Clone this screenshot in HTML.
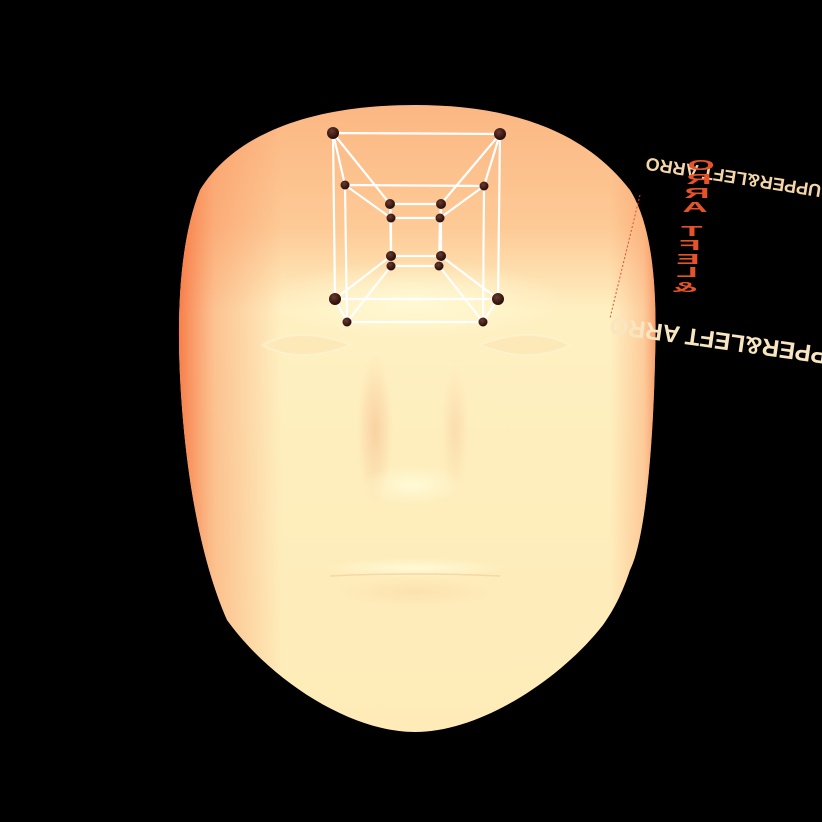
<!DOCTYPE html>
<html><head><meta charset="utf-8"><style>html,body{margin:0;padding:0;background:#000;width:822px;height:822px;overflow:hidden}</style></head>
<body>
<svg width="822" height="822" viewBox="0 0 822 822" xmlns="http://www.w3.org/2000/svg">
<defs>
<linearGradient id="base" x1="0" y1="0" x2="0" y2="1">
<stop offset="0" stop-color="#fcb682"/>
<stop offset="0.2" stop-color="#fdca96"/>
<stop offset="0.33" stop-color="#fff0c2"/>
<stop offset="0.6" stop-color="#feeebd"/>
<stop offset="1" stop-color="#feebb8"/>
</linearGradient>
<linearGradient id="leftedge" x1="0" y1="0" x2="1" y2="0">
<stop offset="0" stop-color="#f66a35" stop-opacity="0.9"/>
<stop offset="0.08" stop-color="#f98a55" stop-opacity="0.45"/>
<stop offset="0.22" stop-color="#f98a55" stop-opacity="0"/>
<stop offset="0.9" stop-color="#f98a55" stop-opacity="0"/>
<stop offset="0.97" stop-color="#f98a55" stop-opacity="0.35"/>
<stop offset="1" stop-color="#f56a35" stop-opacity="0.7"/>
</linearGradient>
<radialGradient id="brow" cx="0.5" cy="0.5" r="0.5">
<stop offset="0" stop-color="#fffbd8" stop-opacity="0.9"/>
<stop offset="1" stop-color="#fffbd8" stop-opacity="0"/>
</radialGradient>
<radialGradient id="shade" cx="0.5" cy="0.5" r="0.5">
<stop offset="0" stop-color="#f6b98a" stop-opacity="0.55"/>
<stop offset="1" stop-color="#f6b98a" stop-opacity="0"/>
</radialGradient>
<radialGradient id="node" cx="0.4" cy="0.35" r="0.6">
<stop offset="0" stop-color="#6a3a30"/>
<stop offset="1" stop-color="#2a0f0a"/>
</radialGradient>
<clipPath id="faceclip"><path d="M415,105 C500,105 580,125 630,190 C655,230 657,300 655,360 C653,450 645,540 630,570 C620,600 610,615 603,625 C560,680 480,732 415,732 C350,732 270,680 227,620 C205,570 190,500 183,420 C176,340 176,250 200,190 C240,125 330,105 415,105 Z"/></clipPath>
</defs>
<rect width="822" height="822" fill="#000"/>
<g clip-path="url(#faceclip)">
<rect x="170" y="100" width="500" height="640" fill="url(#base)"/>
<rect x="176" y="100" width="482" height="640" fill="url(#leftedge)"/>
<ellipse cx="415" cy="300" rx="150" ry="40" fill="url(#brow)"/>
</g>
<path d="M262,345 Q300,325 350,345 Q300,365 262,345 Z" fill="#fde9b8" stroke="#fff8dc" stroke-width="2" stroke-opacity="0.5"/>
<path d="M480,345 Q530,325 570,345 Q530,365 480,345 Z" fill="#fde9b8" stroke="#fff8dc" stroke-width="2" stroke-opacity="0.5"/>
<ellipse cx="375" cy="430" rx="18" ry="75" fill="url(#shade)"/>
<ellipse cx="455" cy="430" rx="14" ry="65" fill="url(#shade)" opacity="0.6"/>
<ellipse cx="413" cy="485" rx="50" ry="20" fill="url(#brow)"/>
<ellipse cx="415" cy="568" rx="90" ry="10" fill="url(#brow)"/>
<path d="M330,576 Q415,572 500,576" stroke="#f7d6a8" stroke-width="1.5" fill="none"/>
<ellipse cx="415" cy="592" rx="85" ry="16" fill="url(#shade)" opacity="0.4"/>
<g stroke="#fff" stroke-width="2.2" fill="none">
<polygon points="333,133 500,134 498,299 335,299"/>
<polygon points="345,185 484,186 483,322 347,322"/>
<polygon points="390,204 441,204 441,256 391,256"/>
<polygon points="391,218 440,218 439,266 391,266"/>
<path d="M333,133L345,185M500,134L484,186M498,299L483,322M335,299L347,322"/>
<path d="M333,133L390,204M500,134L441,204M498,299L441,256M335,299L391,256"/>
<path d="M345,185L391,218M484,186L440,218M483,322L439,266M347,322L391,266"/>
<path d="M390,204L391,218M441,204L440,218M441,256L439,266M391,256L391,266"/>
</g>
<g fill="url(#node)">
<circle cx="333" cy="133" r="6"/><circle cx="500" cy="134" r="6"/><circle cx="335" cy="299" r="6"/><circle cx="498" cy="299" r="6"/>
<circle cx="345" cy="185" r="4.5"/><circle cx="484" cy="186" r="4.5"/><circle cx="347" cy="322" r="4.5"/><circle cx="483" cy="322" r="4.5"/>
<circle cx="390" cy="204" r="5"/><circle cx="441" cy="204" r="5"/><circle cx="391" cy="256" r="5"/><circle cx="441" cy="256" r="5"/>
<circle cx="391" cy="218" r="4.5"/><circle cx="440" cy="218" r="4.5"/><circle cx="391" cy="266" r="4.5"/><circle cx="439" cy="266" r="4.5"/>
</g>
<path d="M640,195 L610,318" stroke="#e0502a" stroke-width="1" stroke-dasharray="2,2"/>
<text transform="translate(822,185) rotate(189)" font-family="Liberation Sans, sans-serif" font-size="18" font-weight="bold" fill="#f5d6a8">UPPER&amp;LEFT ARRO</text>
<text transform="translate(845,350) rotate(188)" font-family="Liberation Sans, sans-serif" font-size="24" font-weight="bold" fill="#f8e6c0">UPPER&amp;LEFT ARRO</text>
<g font-family="Liberation Sans, sans-serif" font-size="20" font-weight="bold" fill="#e5532a" text-anchor="middle">
<text transform="translate(701,170) scale(-1.75,0.75)">O</text>
<text transform="translate(699,184) scale(-1.75,0.75)">R</text>
<text transform="translate(697,198) scale(-1.75,0.75)">R</text>
<text transform="translate(695,212) scale(-1.75,0.75)">A</text>
<text transform="translate(692,236) scale(-1.75,0.75)">T</text>
<text transform="translate(690,250) scale(-1.75,0.75)">F</text>
<text transform="translate(688,264) scale(-1.75,0.75)">E</text>
<text transform="translate(687,277) scale(-1.75,0.75)">L</text>
<text transform="translate(685,292) scale(-1.75,0.75)">&amp;</text>
</g>
</svg>
</body></html>
